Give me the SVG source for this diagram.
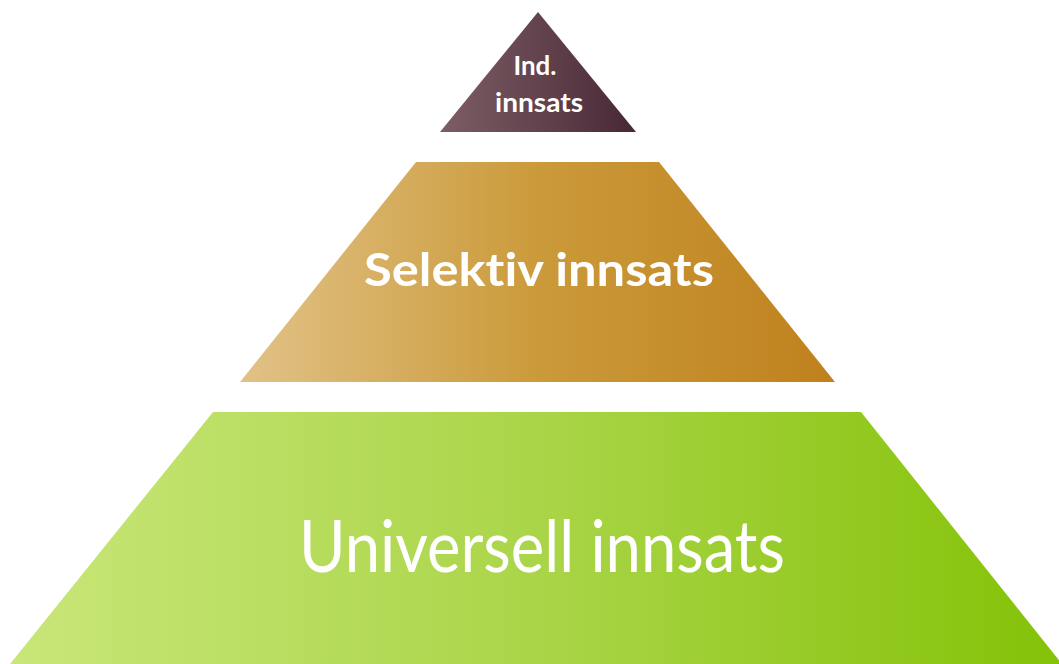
<svg xmlns="http://www.w3.org/2000/svg" width="1059" height="664" viewBox="0 0 1059 664">
  <defs>
    <linearGradient id="gTop" x1="0" y1="0" x2="1" y2="0">
      <stop offset="0" stop-color="#7d5e65"/>
      <stop offset="1" stop-color="#482836"/>
    </linearGradient>
    <linearGradient id="gMid" x1="0" y1="0" x2="1" y2="0">
      <stop offset="0" stop-color="#e1c287"/>
      <stop offset="0.5" stop-color="#cb9a3a"/>
      <stop offset="1" stop-color="#bf811d"/>
    </linearGradient>
    <linearGradient id="gBot" x1="0" y1="0" x2="1" y2="0">
      <stop offset="0" stop-color="#c9e679"/>
      <stop offset="0.5" stop-color="#aad548"/>
      <stop offset="1" stop-color="#84c208"/>
    </linearGradient>
    <style>
      .lbl { fill: #ffffff; font-family: "Lato", "Open Sans", "Liberation Sans", sans-serif; text-anchor: middle; font-variant-ligatures: none; }
      .b { font-weight: 700; }
    </style>
  </defs>
  <rect width="1059" height="664" fill="#ffffff"/>
  <g id="individuell">
    <polygon points="538,12 636,132 440,132" fill="url(#gTop)"/>
    <text class="lbl b" x="535" y="75" font-size="27" textLength="43" lengthAdjust="spacingAndGlyphs">Ind.</text>
    <text class="lbl b" x="539" y="112" font-size="26" textLength="88" lengthAdjust="spacingAndGlyphs">innsats</text>
  </g>
  <g id="selektiv">
    <polygon points="416,162 659,162 835,382 240,382" fill="url(#gMid)"/>
    <text class="lbl b" x="539" y="286" font-size="46" textLength="350" lengthAdjust="spacingAndGlyphs">Selektiv innsats</text>
  </g>
  <g id="universell">
    <polygon points="213,412 861,412 1062,664 10,664" fill="url(#gBot)"/>
    <text class="lbl" x="542" y="572" font-size="72" textLength="486" lengthAdjust="spacingAndGlyphs">Universell innsats</text>
  </g>
  <g id="connectors"/>
</svg>
